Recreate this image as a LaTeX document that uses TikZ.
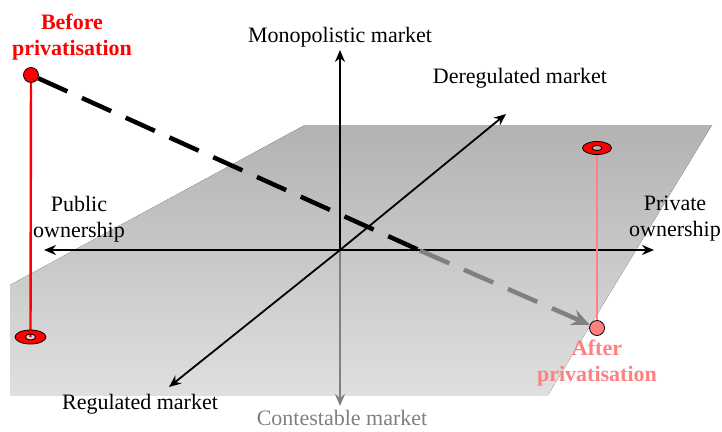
\documentclass[tikz,border=0pt]{standalone}
\usepackage{fontspec}
\setmainfont{Liberation Serif}
\usetikzlibrary{arrows.meta}
\definecolor{afterpink}{RGB}{255,128,128}
\definecolor{axisgray}{RGB}{128,128,128}
\tikzset{
  axisarrow/.style={line width=1.8pt,-{Stealth[length=12pt,width=10pt]}},
  lab/.style={font=\fontsize{22}{26}\selectfont,align=center,inner sep=0pt},
  statelab/.style={font=\fontsize{22}{26}\selectfont\bfseries,align=center,inner sep=0pt},
  statedot/.style={circle,draw=black,line width=0.8pt,minimum size=15pt,inner sep=0pt},
  ringmark/.style={fill=red,draw=black,line width=0.8pt,even odd rule},
  movearrow/.style={line width=4.5pt,dash pattern=on 32pt off 16pt},
}
\begin{document}
\begin{tikzpicture}[x=1pt,y=-1pt]
    \useasboundingbox (0,0) rectangle (722,431);
    % the plane
    \fill[top color=gray!60,bottom color=gray!25] (305,125) -- (712,125) -- (548,395) -- (10,395) -- (10,285) -- cycle;
    % axes
    \coordinate (O) at (340,250);
    \coordinate (mono) at (340,50);
    \coordinate (cont) at (340,406);
    \coordinate (pub) at (44,250);
    \coordinate (priv) at (654,250);
    \coordinate (dereg) at (506,114);
    \coordinate (reg) at (169,387);
    \draw[axisarrow] (O) -- (mono);
    \draw[axisarrow,axisgray] (O) -- (cont);
    \draw[axisarrow] (O) -- (pub);
    \draw[axisarrow] (O) -- (priv);
    \draw[axisarrow] (O) -- (dereg);
    \draw[axisarrow] (O) -- (reg);
    % axis labels
    \node[lab] (monolab) at (340,37) {Monopolistic market};
    \node[lab] (dereglab) at (520,78) {Deregulated market};
    \node[lab] (publab) at (79,219) {Public\\ownership};
    \node[lab] (privlab) at (675,219) {Private\\ownership};
    \node[lab] (reglab) at (140,404) {Regulated market};
    \node[lab,text=axisgray] (contlab) at (342,418) {Contestable market};
    % before and after
    \coordinate (beforering) at (30.5,337);
    \coordinate (afterring) at (597,148);
    \node[statedot,fill=red] (before) at (31,75) {};
    \node[statedot,fill=afterpink] (after) at (597,328) {};
    \draw[red,line width=2.4pt] (before) -- (beforering);
    \draw[afterpink,line width=2pt] (after) -- (afterring);
    \path[ringmark] (beforering) ellipse [x radius=15.5pt,y radius=7pt] (beforering) ellipse [x radius=5pt,y radius=3pt];
    \path[ringmark] (afterring) ellipse [x radius=14.5pt,y radius=6.5pt] (afterring) ellipse [x radius=5pt,y radius=2.5pt];
    % the move
    \coordinate (mid) at (420,250.5);
    \draw[movearrow] (before) -- (mid);
    \draw[movearrow,axisgray,-{Stealth[length=18pt,width=16pt]}] (mid) -- (after);
    \node[statelab,text=red] (beforelab) at (72,37) {Before\\privatisation};
    \node[statelab,text=afterpink] (afterlab) at (597,363) {After\\privatisation};
\end{tikzpicture}
\end{document}
